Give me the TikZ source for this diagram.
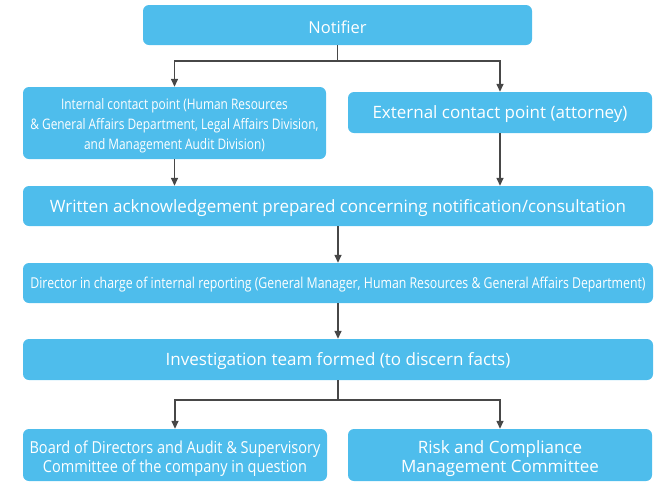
\documentclass[tikz,border=0pt]{standalone}
\usepackage{fontspec}
\setmainfont{Open Sans}
\usetikzlibrary{arrows.meta}
\definecolor{boxblue}{HTML}{4EBDEC}
\definecolor{arrowgray}{HTML}{474747}
\tikzset{
  box/.style={fill=boxblue, draw=none, rounded corners=6pt, text=white, align=center, inner sep=0pt, font=\fontsize{17}{19.5}\selectfont},
  conn/.style={draw=arrowgray, line width=1.4pt, -{Triangle[length=8pt,width=7pt]}},
  plain/.style={draw=arrowgray, line width=1.4pt}
}
\newcommand{\cond}[2]{\scalebox{#1}[1]{#2}}
\newcommand{\dn}[2]{\raisebox{-#1pt}[\height][\depth]{#2}}
\begin{document}
\begin{tikzpicture}[x=1pt,y=1pt]
\useasboundingbox (0,0) rectangle (669,-483);
\node[box, minimum width=389, minimum height=40, font=\fontsize{16.5}{19}\selectfont] (notifier) at (337.5,-25) {\dn{2}{Notifier}};
\node[box, minimum width=303, minimum height=72] (internal) at (174.5,-123) {\dn{2}{\cond{0.82}{\fontsize{14.5}{20}\selectfont\begin{tabular}{@{}c@{}}Internal contact point (Human Resources\\ \& General Affairs Department, Legal Affairs Division,\\ and Management Audit Division)\end{tabular}}}};
\node[box, minimum width=304, minimum height=41] (external) at (500,-112.5) {\dn{2}{External contact point (attorney)}};
\node[box, minimum width=630, minimum height=40] (written) at (338,-206) {\dn{2}{Written acknowledgement prepared concerning notification/consultation}};
\node[box, minimum width=630, minimum height=40] (director) at (338,-283) {\dn{1.5}{\cond{0.82}{\fontsize{15}{18}\selectfont Director in charge of internal reporting (General Manager, Human Resources \& General Affairs Department)}}};
\node[box, minimum width=630, minimum height=41] (invest) at (338,-359.5) {\dn{2}{Investigation team formed (to discern facts)}};
\node[box, minimum width=304, minimum height=52] (board) at (175,-455) {\dn{4}{\cond{0.88}{\fontsize{16.5}{19.5}\selectfont\begin{tabular}{@{}c@{}}Board of Directors and Audit \& Supervisory\\ Committee of the company in question\end{tabular}}}};
\node[box, minimum width=304, minimum height=52] (risk) at (500,-455) {\dn{4}{\begin{tabular}{@{}c@{}}Risk and Compliance\\ Management Committee\end{tabular}}};

\coordinate (s1) at (337.5,-61);
\draw[plain] (notifier.south) -- (s1);
\draw[conn] (s1) -| (internal.north);
\draw[conn] (s1) -| (external.north);
\draw[conn] (internal.south) -- (internal.south |- written.north);
\draw[conn] (external.south) -- (external.south |- written.north);
\draw[conn] (written.south) -- (director.north);
\draw[conn] (director.south) -- (invest.north);
\coordinate (s2) at (338,-400);
\draw[plain] (invest.south) -- (s2);
\draw[conn] (s2) -| (board.north);
\draw[conn] (s2) -| (risk.north);
\end{tikzpicture}
\end{document}
